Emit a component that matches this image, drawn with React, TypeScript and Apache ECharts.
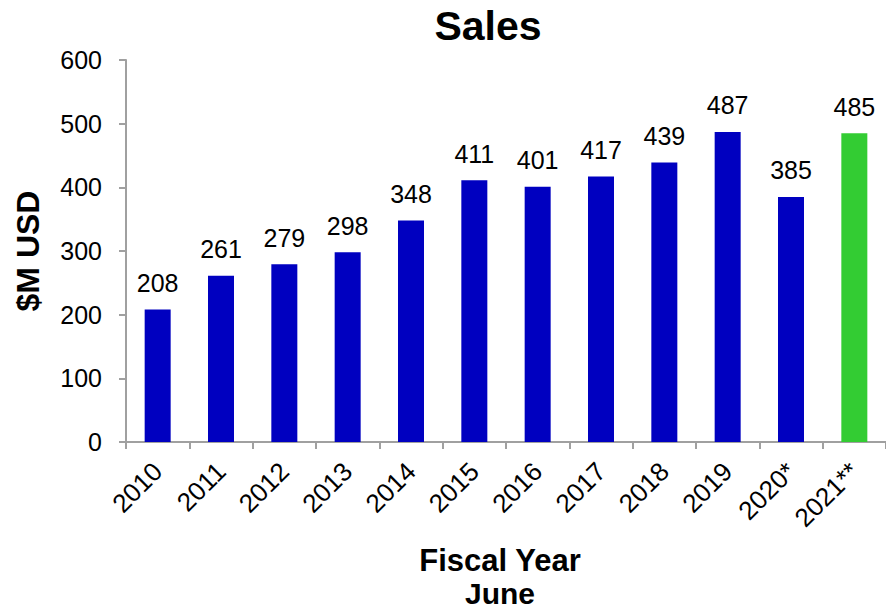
import React, { useEffect, useRef } from "react";
import * as echarts from "echarts";

const categories = ["2010", "2011", "2012", "2013", "2014", "2015", "2016", "2017", "2018", "2019", "2020*", "2021**"];
const sales = [208, 261, 279, 298, 348, 411, 401, 417, 439, 487, 385, 485];
const highlightCategory = "2021**";
const yTicks = { min: 0, max: 600, interval: 100 };
const titleText = "Sales";
const yAxisTitle = "$M USD";
const xAxisTitle = ["Fiscal Year", "June"];

const FONT = "Arial, 'Liberation Sans', Helvetica, sans-serif";
const BLUE = "#0000C0";
const GREEN = "#33CC33";
const AXIS = "#A0A0A0";

export default function App() {
  const ref = useRef<HTMLDivElement>(null);
  useEffect(() => {
    if (!ref.current) return;
    const chart = echarts.init(ref.current, null, { renderer: "svg" });
    chart.setOption({
      animation: false,
      backgroundColor: "#ffffff",
      textStyle: { fontFamily: FONT },
      grid: { left: 126, right: 0, top: 60, bottom: 168, containLabel: false },
      xAxis: {
        type: "category",
        data: categories,
        boundaryGap: true,
        axisLine: { lineStyle: { color: AXIS, width: 2 } },
        axisTick: { show: true, alignWithLabel: false, length: 7, lineStyle: { color: AXIS, width: 2 } },
        axisLabel: { rotate: 45, fontSize: 26, color: "#000", margin: 25, fontFamily: FONT, interval: 0 },
      },
      yAxis: {
        type: "value",
        min: yTicks.min,
        max: yTicks.max,
        interval: yTicks.interval,
        splitLine: { show: false },
        axisLine: { show: true, lineStyle: { color: AXIS, width: 2 } },
        axisTick: { show: true, length: 7, lineStyle: { color: AXIS, width: 2 } },
        axisLabel: { fontSize: 25, color: "#000", margin: 24, fontFamily: FONT },
        name: yAxisTitle,
        nameLocation: "middle",
        nameGap: 82,
        nameRotate: 90,
        nameTextStyle: { fontSize: 32, fontWeight: "bold", color: "#000", fontFamily: FONT },
      },
      series: [
        {
          type: "bar",
          barWidth: 26,
          data: sales.map((v, i) => ({
            value: v,
            itemStyle: { color: categories[i] === highlightCategory ? GREEN : BLUE },
          })),
          label: {
            show: true,
            position: "top",
            distance: 14,
            fontSize: 25,
            color: "#000",
            fontFamily: FONT,
          },
        },
      ],
      graphic: [
        {
          type: "text",
          x: 488,
          y: 26,
          style: {
            text: titleText,
            font: `bold 41px ${FONT}`,
            fill: "#000",
            textAlign: "center",
            textVerticalAlign: "middle",
          },
        },
        {
          type: "text",
          x: 500,
          y: 560,
          style: {
            text: xAxisTitle[0],
            font: `bold 31px ${FONT}`,
            fill: "#000",
            textAlign: "center",
            textVerticalAlign: "middle",
          },
        },
        {
          type: "text",
          x: 500,
          y: 593,
          style: {
            text: xAxisTitle[1],
            font: `bold 30px ${FONT}`,
            fill: "#000",
            textAlign: "center",
            textVerticalAlign: "middle",
          },
        },
      ],
    });
    return () => chart.dispose();
  }, []);
  return <div ref={ref} style={{ position: "fixed", left: 0, top: 0, width: 886, height: 610 }} />;
}
